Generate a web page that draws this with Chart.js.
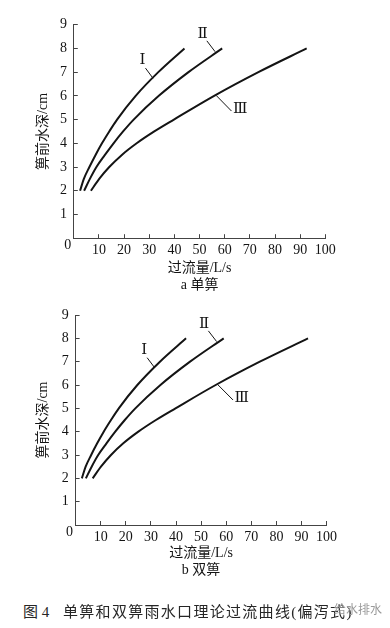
<!DOCTYPE html>
<html>
<head>
<meta charset="utf-8">
<script src="https://cdn.jsdelivr.net/npm/chart.js@4.4.0/dist/chart.umd.min.js"></script>
<style>
  body { margin: 0; background: #fff; width: 390px; height: 628px; position: relative; overflow: hidden;
         font-family: "Liberation Serif", "Noto Sans CJK SC", serif; color: #1a1a1a; }
  .panel { position: absolute; left: 0; }
  #wrapA { top: 0; }
  #wrapB { top: 290px; }
  .cap { position: absolute; top: 603px; font-size: 15px; line-height: 18px; white-space: nowrap; color: #262626; }
  #capNo { left: 23px; }
  #capText { left: 63px; letter-spacing: 1.3px; }
  #mark { position: absolute; left: 334px; top: 600px; font-size: 12px; color: #9a9a9a; font-family: "Noto Sans CJK SC", sans-serif; }
</style>
</head>
<body>
<div class="panel" id="wrapA"><canvas id="chartA" width="390" height="295"></canvas></div>
<div class="panel" id="wrapB"><canvas id="chartB" width="390" height="292"></canvas></div>
<div class="cap" id="capNo">图 4</div>
<div class="cap" id="capText">单箅和双箅雨水口理论过流曲线(偏泻式)</div>
<div id="mark">给水排水</div>
<script>
// depth in front of the grate (cm) and flow (L/s)
const depth = [2, 2.5, 3, 3.5, 4, 4.5, 5, 6, 7, 8];
const flowI = [2.5, 4.0, 6.2, 8.6, 11.2, 14.1, 17.2, 24.6, 33.6, 44.0];
const flowII = [4.1, 6.4, 9.0, 12.3, 15.8, 19.6, 23.8, 33.8, 45.6, 59.0];
const flowIII = [6.8, 10.1, 14.1, 19.0, 25.0, 32.0, 39.8, 55.8, 73.4, 92.6];
const curveNames = ['Ⅰ', 'Ⅱ', 'Ⅲ'];
const xMax = 100, xStep = 10;
const yMax = 9, yStep = 1;
const xTitle = '过流量/L/s';
const yTitle = '箅前水深/cm';
const panelNames = ['a 单箅', 'b 双箅'];

const serif = "'Liberation Serif', 'Noto Sans CJK SC', serif";
const ink = '#141414';

// curve labels with their leader lines, in data units
const callouts = [
  { text: curveNames[0], at: [27.3, 7.5], from: [28.5, 7.17], to: [31.5, 6.74] },
  { text: curveNames[1], at: [51.2, 8.6], from: [52.9, 8.32], to: [56.2, 7.86] },
  { text: curveNames[2], at: [66.2, 5.45], from: [62.7, 5.36], to: [56.6, 6.02] }
];

const calloutPlugin = {
  id: 'callouts',
  afterDatasetsDraw(chart) {
    const { ctx, scales: { x, y } } = chart;
    ctx.save();
    ctx.strokeStyle = ink;
    ctx.fillStyle = ink;
    ctx.lineWidth = 1;
    ctx.textAlign = 'center';
    ctx.textBaseline = 'middle';
    ctx.font = "15px 'DejaVu Serif', 'Liberation Serif', serif";
    callouts.forEach(c => {
      ctx.beginPath();
      ctx.moveTo(x.getPixelForValue(c.from[0]), y.getPixelForValue(c.from[1]));
      ctx.lineTo(x.getPixelForValue(c.to[0]), y.getPixelForValue(c.to[1]));
      ctx.stroke();
      ctx.fillText(c.text, x.getPixelForValue(c.at[0]), y.getPixelForValue(c.at[1]));
    });
    // the single "0" shared by both axes at the corner
    ctx.font = '14px ' + serif;
    ctx.fillText('0', x.getPixelForValue(0) - 6, y.getPixelForValue(0) + 7);
    ctx.restore();
  }
};

function toPoints(flows) {
  return depth.map((d, i) => ({ x: flows[i], y: d }));
}

function makeChart(id, box, panelName) {
  const ctx = document.getElementById(id).getContext('2d');
  return new Chart(ctx, {
    type: 'line',
    data: {
      datasets: [flowI, flowII, flowIII].map((f, i) => ({
        label: curveNames[i],
        data: toPoints(f),
        borderColor: ink,
        borderWidth: 2,
        pointRadius: 0,
        fill: false,
        cubicInterpolationMode: 'monotone'
      }))
    },
    options: {
      responsive: false,
      animation: false,
      layout: { padding: { top: box.top, right: 390 - box.right, left: 0, bottom: 0 } },
      plugins: { legend: { display: false }, tooltip: { enabled: false } },
      scales: {
        x: {
          type: 'linear',
          min: 0,
          max: xMax,
          ticks: {
            stepSize: xStep,
            padding: 7.5,
            maxRotation: 0,
            minRotation: 0,
            autoSkip: false,
            color: ink,
            font: { family: serif, size: 14 },
            callback: v => (v === 0 ? '' : v)
          },
          grid: { drawOnChartArea: false, tickLength: -4, color: '#444' },
          border: { color: '#444' },
          title: {
            display: true,
            text: [xTitle, panelName],
            color: ink,
            font: { family: serif, size: 14 },
            padding: { top: 0, bottom: box.titlePad }
          },
          afterFit: s => { s.height = box.height - box.bottom; }
        },
        y: {
          min: 0,
          max: yMax,
          ticks: {
            stepSize: yStep,
            padding: 10.8,
            color: ink,
            font: { family: serif, size: 14 },
            callback: v => (v === 0 ? '' : v)
          },
          grid: { drawOnChartArea: false, tickLength: -4, color: '#444' },
          border: { color: '#444' },
          title: {
            display: true,
            text: yTitle,
            color: ink,
            font: { family: serif, size: 14 },
            padding: { top: 34.9, bottom: 0 }
          },
          afterFit: s => { s.width = box.left; }
        }
      }
    },
    plugins: [calloutPlugin]
  });
}

makeChart('chartA', { left: 73.8, right: 325.3, top: 24.7, bottom: 238.2, height: 295, titlePad: 1.6 }, panelNames[0]);
makeChart('chartB', { left: 75.6, right: 326.6, top: 25, bottom: 235, height: 292, titlePad: 3.6 }, panelNames[1]);
</script>
</body>
</html>
